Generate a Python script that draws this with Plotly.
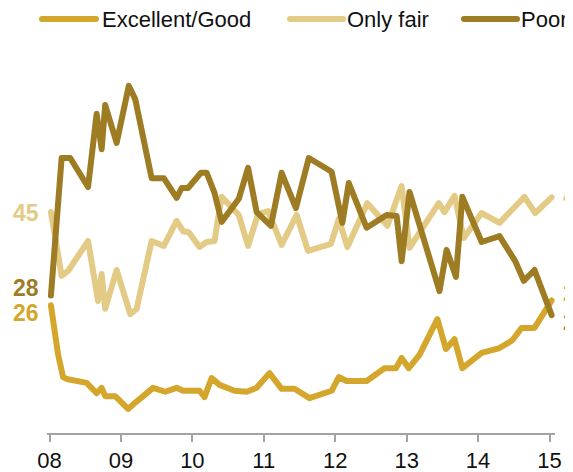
import plotly.graph_objects as go

# ---- data ----
excellent_x = [2008.02, 2008.12, 2008.19, 2008.24, 2008.52, 2008.66, 2008.73, 2008.78, 2008.92,
               2009.10, 2009.21, 2009.45, 2009.62, 2009.78, 2009.87, 2010.10, 2010.17, 2010.27,
               2010.38, 2010.59, 2010.76, 2010.90, 2011.08, 2011.25, 2011.43, 2011.64, 2011.95,
               2012.05, 2012.16, 2012.44, 2012.69, 2012.85, 2012.93, 2013.03, 2013.18, 2013.43,
               2013.55, 2013.67, 2013.78, 2014.05, 2014.30, 2014.48, 2014.61, 2014.79, 2015.03]
excellent_y = [26, 16, 11.4, 11, 10.2, 8.1, 9.2, 7.5, 7.5,
               4.9, 6.3, 9.2, 8.4, 9.2, 8.6, 8.6, 7.3, 11.2,
               9.8, 8.6, 8.4, 9.2, 12.2, 9, 9, 7.1, 8.6,
               11.4, 10.6, 10.6, 13.2, 13.2, 15.3, 13.2, 15.9, 23.2,
               17.1, 19.1, 13.2, 16.3, 17.3, 18.9, 21.4, 21.4, 27]

fair_x = [2008.02, 2008.17, 2008.26, 2008.54, 2008.68, 2008.73, 2008.78, 2008.94, 2009.13,
          2009.22, 2009.43, 2009.60, 2009.78, 2009.87, 2009.95, 2010.10, 2010.20, 2010.31,
          2010.41, 2010.65, 2010.78, 2010.92, 2011.06, 2011.25, 2011.46, 2011.62, 2011.94,
          2012.05, 2012.17, 2012.45, 2012.73, 2012.93, 2013.04, 2013.45, 2013.53, 2013.67,
          2013.80, 2014.05, 2014.30, 2014.65, 2014.80, 2015.03]
fair_y = [45, 32, 33, 39.1, 26.9, 32.4, 25.3, 33.2, 24.2,
          25.3, 39.1, 38.1, 43.2, 41.1, 40.9, 37.9, 38.9, 39.1,
          48.1, 44.4, 38.1, 44.6, 45.2, 38.3, 44.4, 37.1, 38.5,
          43.6, 37.9, 46.8, 42.2, 50.3, 37.7, 46.8, 45, 48.3,
          39.7, 44.8, 42.8, 48.1, 44.8, 48]

poor_x = [2008.02, 2008.17, 2008.29, 2008.54, 2008.66, 2008.73, 2008.78, 2008.94, 2009.11,
          2009.20, 2009.43, 2009.60, 2009.78, 2009.85, 2009.94, 2010.12, 2010.20, 2010.31,
          2010.41, 2010.65, 2010.78, 2010.90, 2011.10, 2011.25, 2011.45, 2011.63, 2011.95,
          2012.10, 2012.19, 2012.44, 2012.72, 2012.86, 2012.93, 2013.04, 2013.46, 2013.56,
          2013.69, 2013.78, 2014.05, 2014.30, 2014.52, 2014.64, 2014.79, 2015.03]
poor_y = [28, 56, 56, 50.1, 65, 57.8, 66.8, 59.1, 70.7,
          68, 51.9, 51.9, 47.9, 49.9, 49.9, 53, 53, 48.9,
          43, 47.7, 54, 45, 42.2, 53, 45.8, 56, 53.2,
          42.8, 50.9, 41.8, 44.4, 44.2, 35, 49.1, 28.9, 37.3,
          31.8, 48.1, 38.9, 40.1, 35, 31, 33.2, 24]

series_names = ["Excellent/Good", "Only fair", "Poor"]
start_labels = ["26", "45", "28"]
end_labels = ["27", "48", "24"]
tick_vals = [2008, 2009, 2010, 2011, 2012, 2013, 2014, 2015]
tick_text = ["08", "09", "10", "11", "12", "13", "14", "15"]

C_EXC = "#d4a72c"
C_FAIR = "#e3ca85"
C_POOR = "#9e7c24"
FONT = "Liberation Sans"

# the page body has an 8px margin, so the figure is placed at (8, 8)
OFF = 8
W, H = 573 - OFF, 472 - OFF
ML, MR, MT, MB = 47 - OFF, 18, 60 - OFF, 39
PW = W - ML - MR
PH = H - MT - MB


def px_x(p):
    return (p - OFF - ML) / PW


def px_y(p):
    return (H - MB - (p - OFF)) / PH


fig = go.Figure()
# drawing order: only fair at the bottom, poor on top
for name, xs, ys, col in [
    (series_names[1], fair_x, fair_y, C_FAIR),
    (series_names[0], excellent_x, excellent_y, C_EXC),
    (series_names[2], poor_x, poor_y, C_POOR),
]:
    fig.add_trace(go.Scatter(x=xs, y=ys, mode="lines", name=name,
                             line=dict(color=col, width=6), showlegend=False,
                             hoverinfo="skip"))

annotations = []
# start labels (left)
for txt, xs, ys, col, ysh in [
    (start_labels[1], fair_x, fair_y, C_FAIR, -1),
    (start_labels[2], poor_x, poor_y, C_POOR, 8),
    (start_labels[0], excellent_x, excellent_y, C_EXC, -8),
]:
    annotations.append(dict(x=xs[0], y=ys[0], xref="x", yref="y", text="<b>%s</b>" % txt,
                            showarrow=False, xanchor="right", yanchor="middle", xshift=-10,
                            yshift=ysh, font=dict(family=FONT, size=23, color=col)))
# end labels (right, cut by the canvas edge as in the reference)
for txt, xs, ys, col, ysh in [
    (end_labels[1], fair_x, fair_y, C_FAIR, 1),
    (end_labels[0], excellent_x, excellent_y, C_EXC, 7),
    (end_labels[2], poor_x, poor_y, C_POOR, -7),
]:
    annotations.append(dict(x=xs[-1], y=ys[-1], xref="x", yref="y", text="<b>%s</b>" % txt,
                            showarrow=False, xanchor="left", yanchor="middle", xshift=9,
                            yshift=ysh, font=dict(family=FONT, size=23, color=col)))

# manual legend (long line keys, as in the reference)
shapes = []
for name, col, x0, x1, tx in [
    (series_names[0], C_EXC, 42, 96, 100),
    (series_names[1], C_FAIR, 290, 343, 345),
    (series_names[2], C_POOR, 464, 517, 519),
]:
    shapes.append(dict(type="line", xref="paper", yref="paper",
                       x0=px_x(x0), x1=px_x(x1), y0=px_y(19), y1=px_y(19),
                       line=dict(color=col, width=6)))
    annotations.append(dict(x=px_x(tx), y=px_y(20), xref="paper", yref="paper", text=name,
                            showarrow=False, xanchor="left", yanchor="middle",
                            font=dict(family=FONT, size=22, color="#111111")))

x0 = 2008 - (49.5 - OFF - ML) / (500 / 7)
x1 = x0 + PW / (500 / 7)

fig.update_layout(
    template="none",
    width=W, height=H,
    margin=dict(l=ML, r=MR, t=MT, b=MB, pad=0),
    paper_bgcolor="white", plot_bgcolor="white",
    font=dict(family=FONT, size=22, color="#111111"),
    xaxis=dict(range=[x0, x1], tickvals=tick_vals, ticktext=tick_text, automargin=False,
               showgrid=False, zeroline=False, showline=True, linecolor="#a3a3a3",
               linewidth=2, ticks="outside", ticklen=7, tickwidth=2, tickcolor="#a3a3a3",
               tickfont=dict(family=FONT, size=22, color="#111111"), fixedrange=True),
    yaxis=dict(range=[0, PH / 4.91], visible=False, showgrid=False, zeroline=False,
               automargin=False, fixedrange=True),
    annotations=annotations,
    shapes=shapes,
    showlegend=False,
)

post = """
document.querySelectorAll('path.js-line').forEach(function(p){
  p.style.strokeLinejoin = 'round'; p.style.strokeLinecap = 'round';
});
document.querySelectorAll('.shapelayer path').forEach(function(p){
  p.style.strokeLinecap = 'round';
});
"""

fig.write_html("out.html", post_script=post)
